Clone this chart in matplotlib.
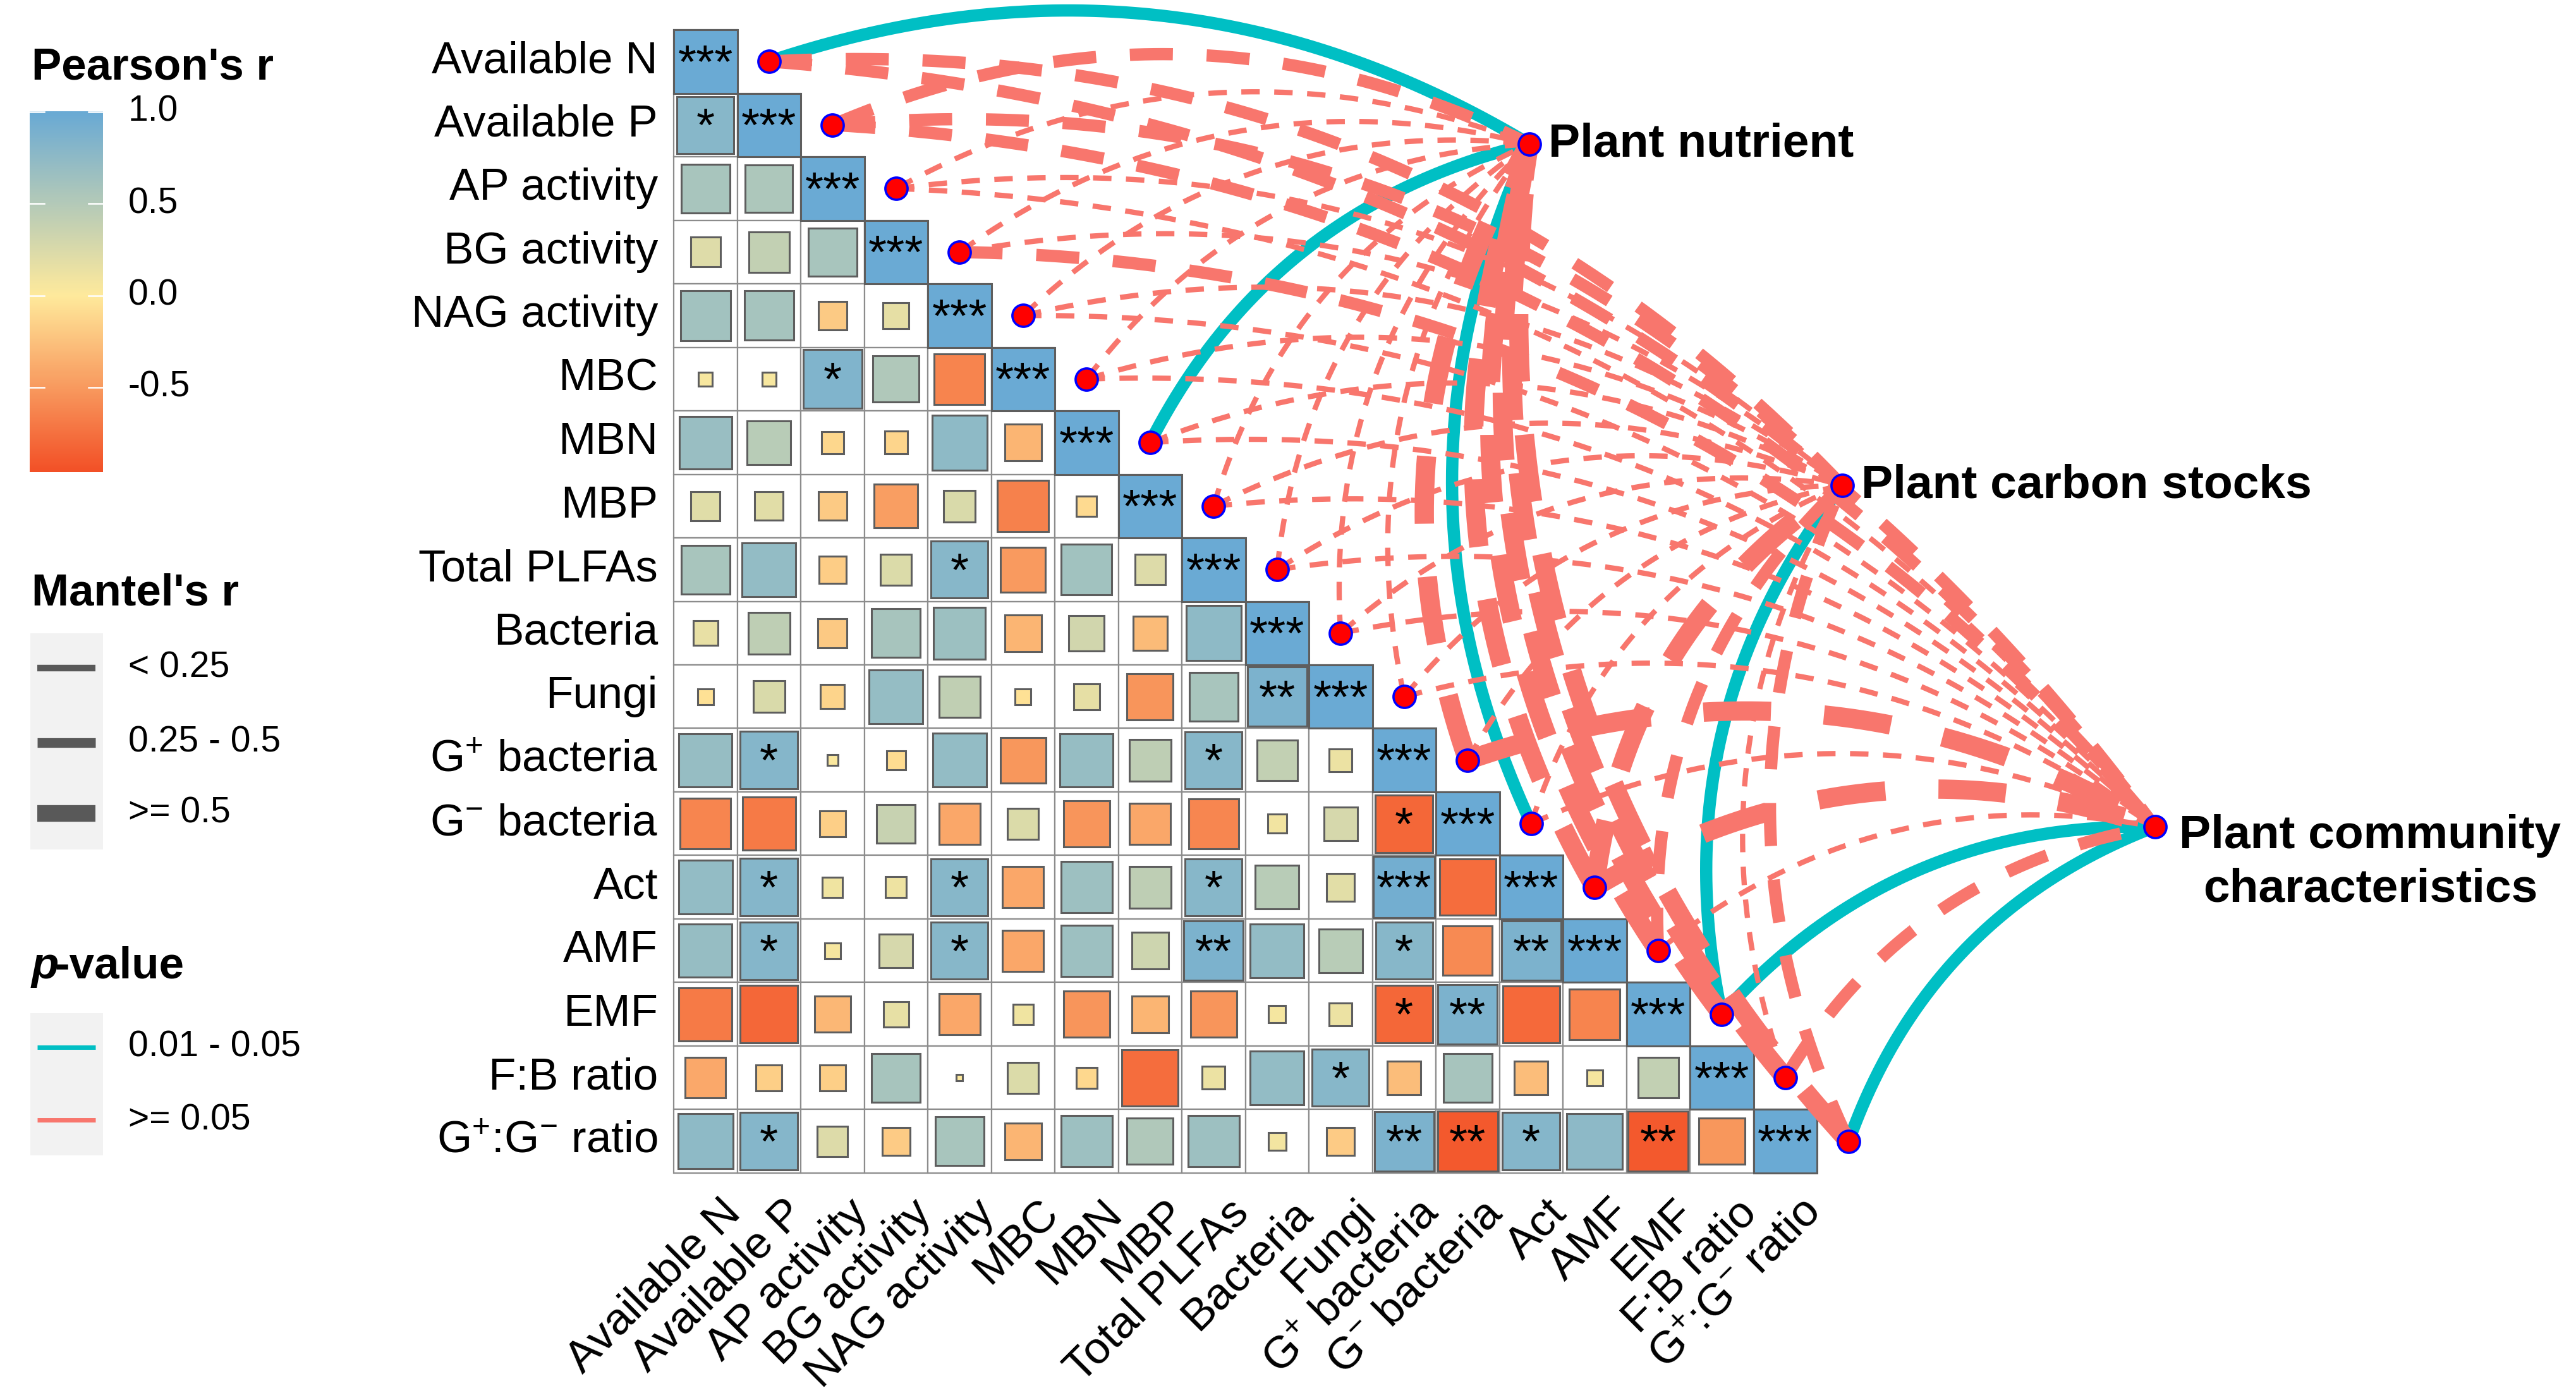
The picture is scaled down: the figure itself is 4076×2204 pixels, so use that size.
import numpy as np
import matplotlib.pyplot as plt
from matplotlib.colors import LinearSegmentedColormap
from matplotlib.patches import Rectangle

plt.rcParams['font.family'] = ['Liberation Sans', 'DejaVu Sans']
plt.rcParams['mathtext.fontset'] = 'custom'
plt.rcParams['mathtext.rm'] = 'Liberation Sans'
plt.rcParams['mathtext.it'] = 'Liberation Sans:italic'
plt.rcParams['mathtext.bf'] = 'Liberation Sans:bold'
plt.rcParams['mathtext.default'] = 'regular'

# soil variables (rows and columns of the matrix)
variables = ["Available N", "Available P", "AP activity", "BG activity", "NAG activity",
             "MBC", "MBN", "MBP", "Total PLFAs", "Bacteria", "Fungi",
             "G$^{+}$ bacteria", "G$^{-}$ bacteria", "Act", "AMF", "EMF",
             "F:B ratio", "G$^{+}$:G$^{-}$ ratio"]

# Pearson's r, lower triangle row by row (row i -> columns 0..i-1), diagonal = 1
pearson_r = [
    [],
    [0.80],
    [0.58, 0.55],
    [0.22, 0.41, 0.58],
    [0.62, 0.60, -0.20, 0.17],
    [0.05, 0.05, 0.85, 0.53, -0.64],
    [0.68, 0.47, -0.12, -0.13, 0.75, -0.33],
    [0.21, 0.20, -0.20, -0.47, 0.25, -0.65, -0.10],
    [0.58, 0.72, -0.18, 0.24, 0.80, -0.50, 0.63, 0.23],
    [0.15, 0.43, -0.21, 0.59, 0.66, -0.33, 0.31, -0.29, 0.75],
    [-0.06, 0.25, -0.14, 0.71, 0.42, -0.06, 0.17, -0.53, 0.58, 0.88],
    [0.70, 0.82, 0.03, -0.09, 0.72, -0.52, 0.70, 0.43, 0.80, 0.41, 0.13],
    [-0.63, -0.70, -0.17, 0.37, -0.42, 0.24, -0.53, -0.42, -0.62, 0.09, 0.28, -0.82],
    [0.72, 0.82, 0.10, 0.11, 0.80, -0.42, 0.65, 0.43, 0.80, 0.47, 0.19, 0.93, -0.78],
    [0.70, 0.82, 0.06, 0.28, 0.80, -0.42, 0.65, 0.33, 0.88, 0.72, 0.47, 0.80, -0.60, 0.88],
    [-0.70, -0.82, -0.32, 0.16, -0.42, 0.10, -0.53, -0.33, -0.53, 0.07, 0.13, -0.82, 0.88, -0.80, -0.64],
    [-0.41, -0.17, -0.17, 0.59, 0.01, 0.24, -0.11, -0.78, 0.13, 0.72, 0.80, -0.28, 0.59, -0.28, 0.06, 0.41],
    [0.75, 0.82, 0.23, -0.19, 0.58, -0.33, 0.65, 0.53, 0.65, 0.08, -0.19, 0.88, -0.90, 0.82, 0.76, -0.90, -0.52],
]

# significance marks (row, col) off the diagonal; diagonal is ***
signif = {(1, 0): '*', (5, 2): '*', (8, 4): '*', (10, 9): '**',
          (11, 1): '*', (11, 8): '*', (12, 11): '*',
          (13, 1): '*', (13, 4): '*', (13, 8): '*', (13, 11): '***',
          (14, 1): '*', (14, 4): '*', (14, 8): '**', (14, 11): '*', (14, 13): '**',
          (15, 11): '*', (15, 12): '**', (16, 10): '*',
          (17, 1): '*', (17, 11): '**', (17, 12): '**', (17, 13): '*', (17, 15): '**'}

env_names = ["Plant nutrient", "Plant carbon stocks", "Plant community\ncharacteristics"]

# Mantel's r class per variable: 0 "< 0.25", 1 "0.25 - 0.5", 2 ">= 0.5"
mantel_nutrient = [1, 1, 0, 0, 0, 0, 1, 0, 0, 0, 0, 2, 1, 2, 2, 2, 2, 2]
mantel_carbon = [1, 1, 0, 0, 0, 0, 0, 0, 0, 0, 0, 0, 0, 2, 1, 1, 0, 1]
mantel_community = [1, 1, 0, 1, 0, 0, 0, 0, 0, 0, 0, 2, 0, 2, 0, 1, 1, 1]
# p-value class per variable: 0 "0.01 - 0.05", 1 ">= 0.05"
p_nutrient = [0, 1, 1, 1, 1, 1, 0, 1, 1, 1, 1, 1, 0, 1, 1, 1, 1, 1]
p_carbon = [1, 1, 1, 1, 1, 1, 1, 1, 1, 1, 1, 1, 1, 1, 1, 0, 1, 1]
p_community = [1, 1, 1, 1, 1, 1, 1, 1, 1, 1, 1, 1, 1, 1, 1, 0, 1, 0]

r_labels = ["< 0.25", "0.25 - 0.5", ">= 0.5"]
p_labels = ["0.01 - 0.05", ">= 0.05"]
cbar_ticks = [1.0, 0.5, 0.0, -0.5]

mantel_cls = [mantel_nutrient, mantel_carbon, mantel_community]
p_cls = [p_nutrient, p_carbon, p_community]
widths = [6.0, 14.0, 22.0]
line_cols = ['#00BFC4', '#F8766D']

n = len(variables)
cmap = LinearSegmentedColormap.from_list('pr', ['#F24A22', '#FFEA9C', '#6AAAD4'])
norm = plt.Normalize(-1, 1)

fig = plt.figure(figsize=(40.76, 22.04), dpi=100)
ax = fig.add_axes([0, 0, 1, 1])
ax.set_xlim(-10.607, 29.95)
ax.set_ylim(21.463, -0.468)
ax.axis('off')

# correlation matrix
for i in range(n):
    for j in range(i + 1):
        ax.add_patch(Rectangle((j, i), 1, 1, facecolor='white', edgecolor='#8C8C8C', lw=1.6, zorder=1))
        r = 1.0 if i == j else pearson_r[i][j]
        s = np.sqrt(abs(r))
        ax.add_patch(Rectangle((j + (1 - s) / 2, i + (1 - s) / 2), s, s,
                               facecolor=cmap(norm(r)), edgecolor='#5E5E5E', lw=2.2, zorder=2))
        lab = '***' if i == j else signif.get((i, j), '')
        if lab:
            ax.text(j + 0.5, i + 0.56, lab, ha='center', va='center', fontsize=54, zorder=3)

for i, name in enumerate(variables):
    ax.text(-0.25, i + 0.5, name, ha='right', va='center', fontsize=51)
    ax.text(i + 0.72, n + 0.3, name, ha='right', va='top', rotation=45,
            rotation_mode='anchor', fontsize=51)

# Mantel links
spec_x = np.arange(n) + 1.5
spec_y = np.arange(n) + 0.5
env_x = np.linspace(13.47, 23.32, 3)
env_y = np.linspace(1.80, 12.55, 3)
t = np.linspace(0, 1, 300)[:, None]
for p in (0, 1):
    for e in range(3):
        for i in range(n):
            if p_cls[e][i] != p:
                continue
            p0 = np.array([spec_x[i], spec_y[i]])
            p2 = np.array([env_x[e], env_y[e]])
            d = p2 - p0
            c = (p0 + p2) / 2 + 0.23 * np.array([d[1], -d[0]])
            pts = (1 - t) ** 2 * p0 + 2 * t * (1 - t) * c + t ** 2 * p2
            ls = '-' if p == 0 else (0, (3.5, 2.75))
            ax.plot(pts[:, 0], pts[:, 1], color=line_cols[p], lw=widths[mantel_cls[e][i]],
                    ls=ls, solid_capstyle='butt', dash_capstyle='butt', zorder=4)

ax.scatter(spec_x, spec_y, s=640, c='red', edgecolors='blue', linewidths=2.6, zorder=6)
ax.scatter(env_x, env_y, s=640, c='red', edgecolors='blue', linewidths=2.6, zorder=6)
for e in range(2):
    ax.text(env_x[e] + 0.3, env_y[e], env_names[e], ha='left', va='center',
            fontsize=54, fontweight='bold')
ax.text(env_x[2] + 3.39, env_y[2] + 0.26 + 0.92, env_names[2], ha='center', va='baseline',
        multialignment='center', linespacing=1.3, fontsize=54, fontweight='bold')

# legends (pixel coordinates)
lax = fig.add_axes([0, 0, 1, 1])
lax.set_xlim(0, 4076)
lax.set_ylim(2204, 0)
lax.axis('off')
lax.patch.set_alpha(0)

lax.text(50, 125, "Pearson's r", fontsize=51, fontweight='bold', va='baseline')
top, unit = 176.5, 291.0
lax.imshow(np.linspace(1, -0.96, 256)[:, None], extent=(47, 163, top + 1.96 * unit, top),
           cmap=cmap, norm=norm, aspect='auto', origin='upper')
for v in cbar_ticks:
    y = top + (1 - v) * unit
    lax.plot([47, 70], [y, y], color='white', lw=1.8)
    lax.plot([140, 163], [y, y], color='white', lw=1.8)
    lax.text(203, y, f"{v:.1f}", fontsize=41, va='center')

lax.text(50, 958, "Mantel's r", fontsize=51, fontweight='bold', va='baseline')
lax.add_patch(Rectangle((48, 1002), 115, 342, facecolor='#F2F2F2', edgecolor='none'))
for k, (lab, y) in enumerate(zip(r_labels, [1057, 1175, 1287])):
    lax.plot([59, 151], [y, y], color='#595959', lw=[7.5, 11, 19][k], solid_capstyle='butt')
    lax.text(203, y, lab, fontsize=41, va='center')

lax.text(50, 1548, "p", fontsize=51, fontweight='bold', fontstyle='italic', va='baseline')
lax.text(86, 1548, "-value", fontsize=51, fontweight='bold', va='baseline')
lax.add_patch(Rectangle((48, 1603), 115, 225, facecolor='#F2F2F2', edgecolor='none'))
for k, (lab, y) in enumerate(zip(p_labels, [1657, 1772])):
    lax.plot([59, 151], [y, y], color=line_cols[k], lw=5, solid_capstyle='butt')
    lax.text(203, y, lab, fontsize=41, va='center')

fig.savefig('out.png', dpi=100, facecolor='white')
